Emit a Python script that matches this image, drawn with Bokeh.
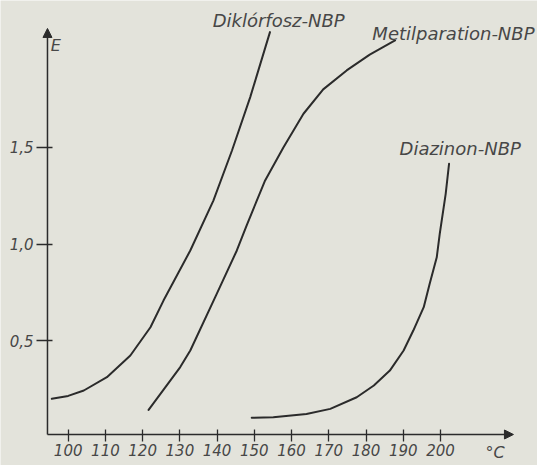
from bokeh.plotting import figure
from bokeh.models import FixedTicker, Arrow, NormalHead, Range1d
from bokeh.core.properties import value
from bokeh.embed import file_html
from bokeh.resources import INLINE

# ---- data ----
temp_ticks = [100, 110, 120, 130, 140, 150, 160, 170, 180, 190, 200]
e_ticks = [0.5, 1.0, 1.5]
e_tick_labels = ["0,5", "1,0", "1,5"]

series_names = ["Diklórfosz-NBP", "Metilparation-NBP", "Diazinon-NBP"]

dik_t = [95.6, 100.0, 104.2, 110.4, 116.7, 122.1, 125.6, 132.8, 139.0, 144.0, 148.9, 154.2]
dik_e = [0.20, 0.215, 0.243, 0.312, 0.424, 0.570, 0.708, 0.967, 1.225, 1.484, 1.76, 2.096]

met_t = [121.6, 130.1, 132.8, 139.9, 145.3, 148.0, 152.9, 157.8, 163.2, 168.5, 174.8, 181.0, 187.8]
met_e = [0.143, 0.364, 0.45, 0.743, 0.967, 1.10, 1.329, 1.50, 1.674, 1.80, 1.898, 1.98, 2.053]

dia_t = [149.3, 155.1, 164.0, 170.4, 177.5, 182.1, 186.4, 190.1, 192.7, 195.5, 197.1, 199.0, 199.8, 201.4, 202.3]
dia_e = [0.102, 0.105, 0.122, 0.148, 0.208, 0.269, 0.346, 0.45, 0.553, 0.674, 0.795, 0.932, 1.053, 1.26, 1.415]

# ---- styling ----
BG = "#e3e3db"
INK = "#2b2b2b"
TXT = "#474747"
FONT = "DejaVu Sans"

x0, x1 = 81.82, 226.06     # visible temperature span
y0, y1 = -0.1448, 2.2596   # visible E span
x_axis_at = 0.0155         # where the temperature axis crosses
y_axis_at = 94.44          # where the E axis crosses
x_tip = 219.6
y_tip = 2.115

p = figure(width=537, height=465, x_range=Range1d(x0, x1), y_range=Range1d(y0, y1),
           output_backend="svg", toolbar_location=None,
           min_border_left=0, min_border_right=0, min_border_top=0, min_border_bottom=0)
p.background_fill_color = BG
p.border_fill_color = BG
p.outline_line_color = None
p.grid.visible = False

xa = p.xaxis[0]
xa.fixed_location = x_axis_at
xa.ticker = FixedTicker(ticks=temp_ticks)
xa.axis_line_color = None
xa.major_tick_in = 5
xa.major_tick_out = 7
xa.minor_tick_line_color = None
xa.major_tick_line_color = INK
xa.major_tick_line_width = 1.3
xa.major_label_standoff = 3
xa.major_label_text_font = FONT
xa.major_label_text_font_style = "italic"
xa.major_label_text_font_size = "15px"
xa.major_label_text_color = TXT

ya = p.yaxis[0]
ya.fixed_location = y_axis_at
ya.ticker = FixedTicker(ticks=e_ticks)
ya.major_label_overrides = {t: s for t, s in zip(e_ticks, e_tick_labels)}
ya.axis_line_color = None
ya.major_tick_in = 5
ya.major_tick_out = 11
ya.minor_tick_line_color = None
ya.major_tick_line_color = INK
ya.major_tick_line_width = 1.3
ya.major_label_standoff = 3
ya.major_label_text_font = FONT
ya.major_label_text_font_style = "italic"
ya.major_label_text_font_size = "15px"
ya.major_label_text_color = TXT

# axes with arrows
p.add_layout(Arrow(end=NormalHead(size=9, fill_color=INK, line_color=INK),
                   x_start=y_axis_at, y_start=x_axis_at, x_end=x_tip, y_end=x_axis_at,
                   line_color=INK, line_width=1.5))
p.add_layout(Arrow(end=NormalHead(size=9, fill_color=INK, line_color=INK),
                   x_start=y_axis_at, y_start=x_axis_at, x_end=y_axis_at, y_end=y_tip,
                   line_color=INK, line_width=1.5))

# curves
for t, e in [(dik_t, dik_e), (met_t, met_e), (dia_t, dia_e)]:
    p.line(t, e, line_color=INK, line_width=2.0, line_join="round", line_cap="round")

# curve names
label_x = [138.8, 181.7, 189.0]
label_y = [2.156, 2.089, 1.494]
p.text(x=label_x, y=label_y, text=series_names, text_font=value(FONT),
       text_font_style="italic", text_font_size="18px", text_color=TXT,
       text_baseline="middle", text_align="left")

# axis names
p.text(x=[95.3, 212.1], y=[2.027, -0.0776], text=["E", "°C"], text_font=value(FONT),
       text_font_style="italic", text_font_size="16px", text_color=TXT,
       text_baseline="middle", text_align="left")

open("out.html", "w").write(file_html(p, INLINE))
